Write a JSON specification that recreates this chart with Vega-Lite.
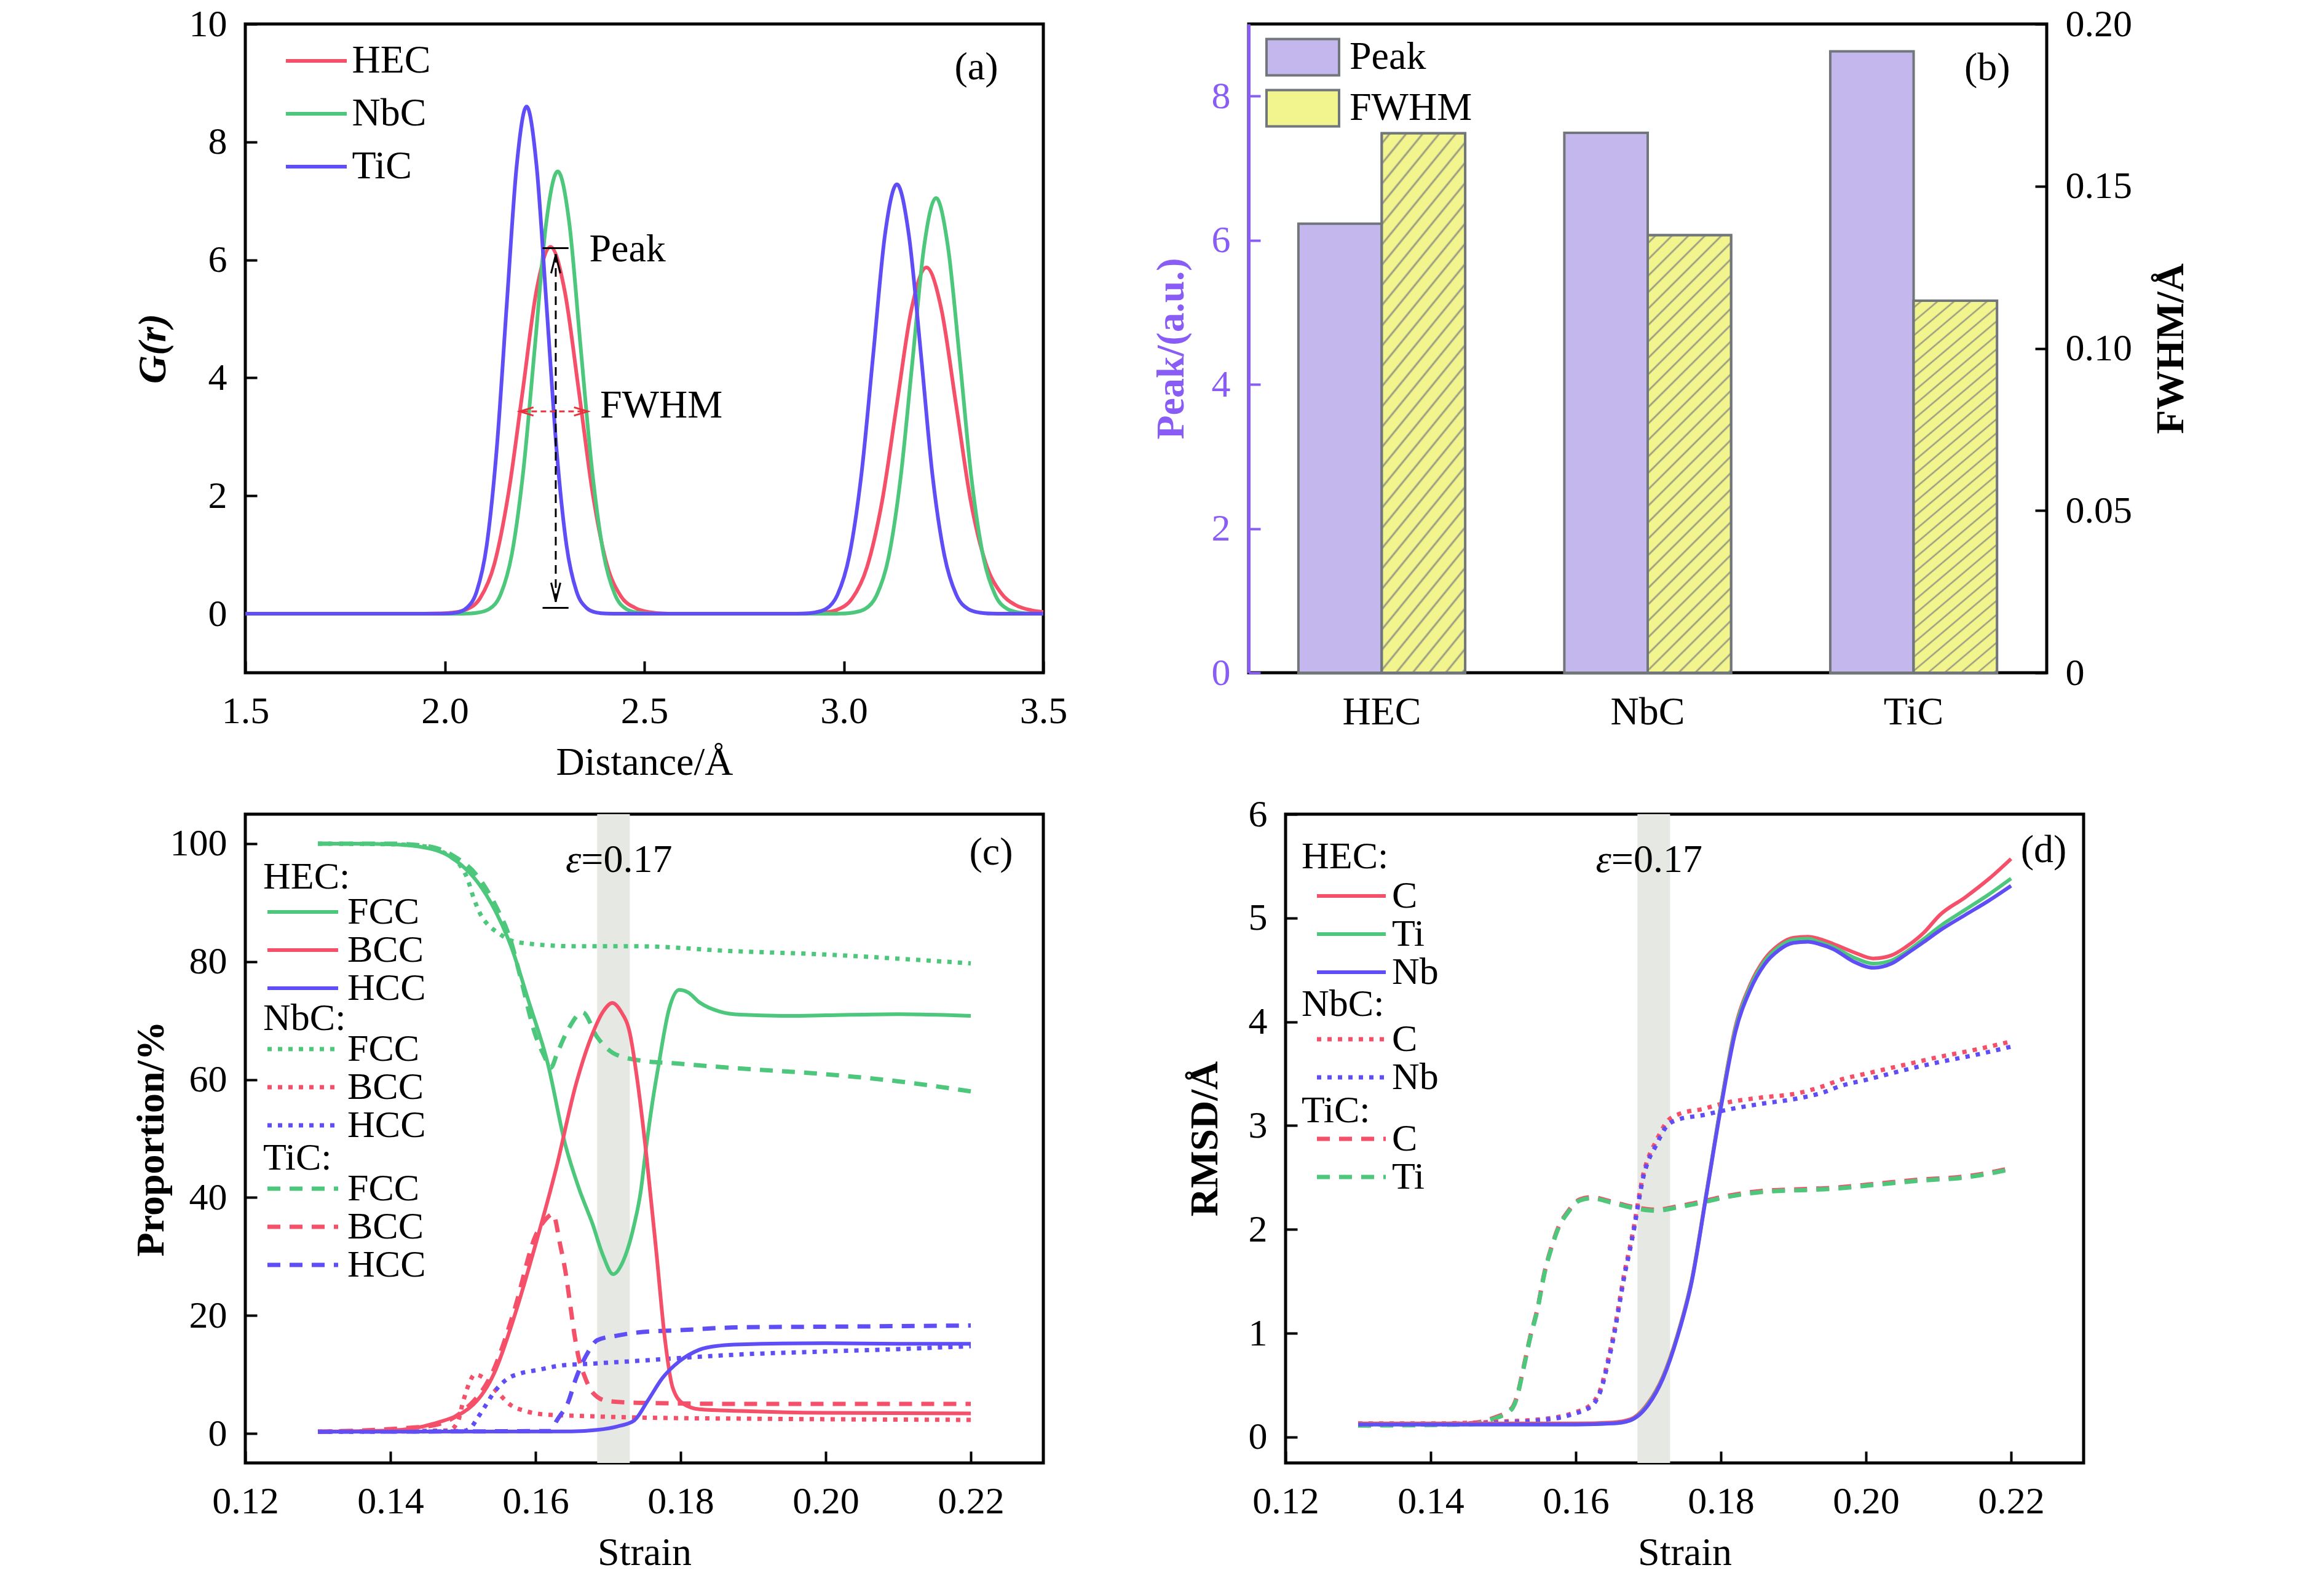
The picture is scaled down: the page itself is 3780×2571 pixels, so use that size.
{
  "$schema": "https://vega.github.io/schema/vega-lite/v6.json",
  "padding": {"left": 211, "top": 5, "right": 5, "bottom": 5},
  "background": "white",
  "config": {
    "font": "Liberation Serif",
    "view": {"stroke": "black", "strokeWidth": 5},
    "axis": {"labelFont": "Liberation Serif", "labelFontSize": 62, "labelColor": "black", "titleFont": "Liberation Serif", "titleFontSize": 64, "titleColor": "black", "titleFontWeight": "normal", "grid": false, "domain": false, "ticks": true, "tickColor": "black", "tickWidth": 4, "tickSize": -19, "labelFlush": false, "labelOverlap": false},
    "axisX": {"titlePadding": 21, "labelPadding": 51},
    "axisY": {"titleFontWeight": "bold", "titlePadding": 10, "labelPadding": 49},
    "legend": {"labelFont": "Liberation Serif", "labelFontSize": 62, "titleFont": "Liberation Serif", "titleFontSize": 62, "titleFontWeight": "normal", "titleColor": "black", "labelColor": "black", "padding": 0, "orient": "none", "labelLimit": 0},
    "text": {"font": "Liberation Serif", "fontSize": 64}
  },
  "spacing": 15,
  "resolve": {"scale": {"color": "independent"}},
  "vconcat": [
    {
      "spacing": 334,
      "bounds": "flush",
      "resolve": {"scale": {"color": "independent"}},
      "hconcat": [
        {
          "width": 1298, "height": 1055,
          "layer": [
            {
              "data": {"values": [
                {"s":"HEC","r":1.5,"g":0},{"s":"HEC","r":1.95,"g":0},{"s":"HEC","r":1.983,"g":0.005},{"s":"HEC","r":2.02,"g":0.02},{"s":"HEC","r":2.053,"g":0.07},{"s":"HEC","r":2.089,"g":0.27},{"s":"HEC","r":2.124,"g":0.84},{"s":"HEC","r":2.159,"g":2.02},{"s":"HEC","r":2.195,"g":3.77},{"s":"HEC","r":2.23,"g":5.49},{"s":"HEC","r":2.265,"g":6.22},{"s":"HEC","r":2.3,"g":5.49},{"s":"HEC","r":2.336,"g":3.77},{"s":"HEC","r":2.371,"g":2.02},{"s":"HEC","r":2.406,"g":0.84},{"s":"HEC","r":2.441,"g":0.3},{"s":"HEC","r":2.477,"g":0.1},{"s":"HEC","r":2.51,"g":0.03},{"s":"HEC","r":2.56,"g":0},{"s":"HEC","r":2.9,"g":0},{"s":"HEC","r":2.95,"g":0.02},{"s":"HEC","r":2.984,"g":0.07},{"s":"HEC","r":3.021,"g":0.26},{"s":"HEC","r":3.058,"g":0.79},{"s":"HEC","r":3.096,"g":1.91},{"s":"HEC","r":3.133,"g":3.56},{"s":"HEC","r":3.17,"g":5.18},{"s":"HEC","r":3.207,"g":5.87},{"s":"HEC","r":3.244,"g":5.18},{"s":"HEC","r":3.281,"g":3.56},{"s":"HEC","r":3.318,"g":1.91},{"s":"HEC","r":3.356,"g":0.85},{"s":"HEC","r":3.393,"g":0.36},{"s":"HEC","r":3.43,"g":0.15},{"s":"HEC","r":3.47,"g":0.06},{"s":"HEC","r":3.5,"g":0.03},
                {"s":"NbC","r":1.5,"g":0},{"s":"NbC","r":2.03,"g":0},{"s":"NbC","r":2.054,"g":0.003},{"s":"NbC","r":2.083,"g":0.02},{"s":"NbC","r":2.111,"g":0.08},{"s":"NbC","r":2.14,"g":0.33},{"s":"NbC","r":2.168,"g":1.01},{"s":"NbC","r":2.197,"g":2.44},{"s":"NbC","r":2.226,"g":4.55},{"s":"NbC","r":2.254,"g":6.62},{"s":"NbC","r":2.283,"g":7.5},{"s":"NbC","r":2.312,"g":6.62},{"s":"NbC","r":2.34,"g":4.55},{"s":"NbC","r":2.369,"g":2.44},{"s":"NbC","r":2.398,"g":1.01},{"s":"NbC","r":2.426,"g":0.33},{"s":"NbC","r":2.455,"g":0.08},{"s":"NbC","r":2.483,"g":0.02},{"s":"NbC","r":2.512,"g":0.003},{"s":"NbC","r":2.55,"g":0},{"s":"NbC","r":2.97,"g":0},{"s":"NbC","r":2.993,"g":0.003},{"s":"NbC","r":3.023,"g":0.02},{"s":"NbC","r":3.053,"g":0.08},{"s":"NbC","r":3.082,"g":0.31},{"s":"NbC","r":3.112,"g":0.95},{"s":"NbC","r":3.142,"g":2.29},{"s":"NbC","r":3.172,"g":4.28},{"s":"NbC","r":3.201,"g":6.22},{"s":"NbC","r":3.231,"g":7.05},{"s":"NbC","r":3.261,"g":6.22},{"s":"NbC","r":3.291,"g":4.28},{"s":"NbC","r":3.32,"g":2.29},{"s":"NbC","r":3.35,"g":0.95},{"s":"NbC","r":3.38,"g":0.31},{"s":"NbC","r":3.41,"g":0.08},{"s":"NbC","r":3.44,"g":0.02},{"s":"NbC","r":3.469,"g":0.003},{"s":"NbC","r":3.5,"g":0},
                {"s":"TiC","r":1.5,"g":0},{"s":"TiC","r":1.98,"g":0},{"s":"TiC","r":2.005,"g":0.003},{"s":"TiC","r":2.03,"g":0.02},{"s":"TiC","r":2.055,"g":0.1},{"s":"TiC","r":2.08,"g":0.38},{"s":"TiC","r":2.105,"g":1.16},{"s":"TiC","r":2.13,"g":2.79},{"s":"TiC","r":2.155,"g":5.22},{"s":"TiC","r":2.18,"g":7.59},{"s":"TiC","r":2.205,"g":8.6},{"s":"TiC","r":2.23,"g":7.59},{"s":"TiC","r":2.255,"g":5.22},{"s":"TiC","r":2.28,"g":2.79},{"s":"TiC","r":2.305,"g":1.16},{"s":"TiC","r":2.33,"g":0.38},{"s":"TiC","r":2.355,"g":0.1},{"s":"TiC","r":2.38,"g":0.02},{"s":"TiC","r":2.405,"g":0.003},{"s":"TiC","r":2.44,"g":0},{"s":"TiC","r":2.87,"g":0},{"s":"TiC","r":2.895,"g":0.003},{"s":"TiC","r":2.925,"g":0.02},{"s":"TiC","r":2.955,"g":0.08},{"s":"TiC","r":2.984,"g":0.32},{"s":"TiC","r":3.014,"g":0.99},{"s":"TiC","r":3.044,"g":2.36},{"s":"TiC","r":3.074,"g":4.42},{"s":"TiC","r":3.103,"g":6.42},{"s":"TiC","r":3.133,"g":7.28},{"s":"TiC","r":3.163,"g":6.42},{"s":"TiC","r":3.193,"g":4.42},{"s":"TiC","r":3.222,"g":2.36},{"s":"TiC","r":3.252,"g":0.99},{"s":"TiC","r":3.282,"g":0.32},{"s":"TiC","r":3.312,"g":0.08},{"s":"TiC","r":3.34,"g":0.02},{"s":"TiC","r":3.371,"g":0.003},{"s":"TiC","r":3.4,"g":0},{"s":"TiC","r":3.5,"g":0}
              ]},
              "mark": {"type": "line", "strokeWidth": 6, "interpolate": "monotone"},
              "encoding": {
                "x": {"field": "r", "type": "quantitative", "scale": {"domain": [1.5, 3.5], "nice": false}, "axis": {"title": "Distance/Å", "values": [1.5, 2, 2.5, 3, 3.5], "format": ".1f"}},
                "y": {"field": "g", "type": "quantitative", "scale": {"domain": [-1, 10], "nice": false}, "axis": {"title": "G(r)", "titleFontStyle": "italic", "values": [0, 2, 4, 6, 8, 10], "format": "d", "titlePadding": 26}},
                "color": {"field": "s", "type": "nominal", "scale": {"domain": ["HEC", "NbC", "TiC"], "range": ["#F5506A", "#4DC77B", "#5F4DF5"]},
                  "legend": {"title": null, "legendX": 63, "legendY": 24, "symbolType": "M-1.5,0H1.5", "symbolSize": 4356, "symbolStrokeWidth": 6, "symbolOffset": 16.5, "labelOffset": 22, "rowPadding": 18, "labelFontSize": 64}}
              }
            },
            {
              "data": {"values": [{}]},
              "mark": {"type": "rule", "color": "black", "strokeWidth": 3},
              "encoding": {"x": {"datum": 2.245, "scale": {"domain": [1.5, 3.5], "nice": false}}, "x2": {"datum": 2.31}, "y": {"datum": 6.2, "scale": {"domain": [-1, 10], "nice": false}}}
            },
            {
              "data": {"values": [{}]},
              "mark": {"type": "rule", "color": "black", "strokeWidth": 3},
              "encoding": {"x": {"datum": 2.245}, "x2": {"datum": 2.31}, "y": {"datum": 0.1}}
            },
            {
              "data": {"values": [{}]},
              "mark": {"type": "rule", "color": "black", "strokeWidth": 3, "strokeDash": [14, 9]},
              "encoding": {"x": {"datum": 2.278}, "y": {"datum": 6.1}, "y2": {"datum": 0.2}}
            },
            {
              "data": {"values": [{}]},
              "mark": {"type": "point", "shape": "M-0.5,1L0,-1L0.5,1", "filled": false, "stroke": "black", "strokeWidth": 3, "size": 900, "opacity": 1},
              "encoding": {"x": {"datum": 2.278}, "y": {"datum": 5.93}}
            },
            {
              "data": {"values": [{}]},
              "mark": {"type": "point", "shape": "M-0.5,-1L0,1L0.5,-1", "filled": false, "stroke": "black", "strokeWidth": 3, "size": 900, "opacity": 1},
              "encoding": {"x": {"datum": 2.278}, "y": {"datum": 0.37}}
            },
            {
              "data": {"values": [{}]},
              "mark": {"type": "rule", "color": "#E8323C", "strokeWidth": 3, "strokeDash": [9, 6]},
              "encoding": {"x": {"datum": 2.194}, "x2": {"datum": 2.352}, "y": {"datum": 3.43}}
            },
            {
              "data": {"values": [{}]},
              "mark": {"type": "point", "shape": "M1,-0.6L-1,0L1,0.6", "filled": false, "stroke": "#E8323C", "strokeWidth": 3, "size": 500, "opacity": 1},
              "encoding": {"x": {"datum": 2.205}, "y": {"datum": 3.43}}
            },
            {
              "data": {"values": [{}]},
              "mark": {"type": "point", "shape": "M-1,-0.6L1,0L-1,0.6", "filled": false, "stroke": "#E8323C", "strokeWidth": 3, "size": 500, "opacity": 1},
              "encoding": {"x": {"datum": 2.341}, "y": {"datum": 3.43}}
            },
            {
              "data": {"values": [{}]},
              "mark": {"type": "text", "text": "Peak", "align": "left", "baseline": "middle", "fontSize": 64},
              "encoding": {"x": {"datum": 2.362}, "y": {"datum": 6.17}}
            },
            {
              "data": {"values": [{}]},
              "mark": {"type": "text", "text": "FWHM", "align": "left", "baseline": "middle", "fontSize": 64},
              "encoding": {"x": {"datum": 2.389}, "y": {"datum": 3.52}}
            },
            {
              "data": {"values": [{}]},
              "mark": {"type": "text", "text": "(a)", "align": "center", "baseline": "middle", "fontSize": 64},
              "encoding": {"x": {"datum": 3.332}, "y": {"datum": 9.26}}
            }
          ]
        },
        {
          "width": 1298, "height": 1055,
          "resolve": {"scale": {"y": "independent"}},
          "layer": [
            {
              "data": {"values": [
                {"m": "HEC", "peak": 6.23, "fwhm": 0.1663},
                {"m": "NbC", "peak": 7.49, "fwhm": 0.1349},
                {"m": "TiC", "peak": 8.62, "fwhm": 0.1147}
              ]},
              "mark": {"type": "bar", "stroke": "#71767B", "strokeWidth": 4},
              "encoding": {
                "x": {"field": "m", "type": "nominal", "scale": {"domain": ["HEC", "NbC", "TiC"], "paddingInner": 0.373, "paddingOuter": 0.187}, "axis": {"title": null, "labelAngle": 0, "labelFontSize": 64}},
                "xOffset": {"datum": "Peak", "scale": {"domain": ["Peak", "FWHM"], "paddingInner": 0, "paddingOuter": 0}},
                "y": {"field": "peak", "type": "quantitative", "scale": {"domain": [0, 9], "nice": false}, "axis": {"orient": "left", "values": [0, 2, 4, 6, 8], "title": "Peak/(a.u.)", "titlePadding": 33, "titleColor": "#8A5CF6", "labelColor": "#8A5CF6", "tickColor": "#8A5CF6", "domain": true, "domainColor": "#8A5CF6", "domainWidth": 5}},
                "color": {"datum": "Peak", "type": "nominal", "scale": {"domain": ["Peak", "FWHM"], "range": ["#C4B7EE", "#F2F48E"]},
                  "legend": {"title": null, "legendX": 28, "legendY": 22, "symbolType": "M-2,-1H2V1H-2Z", "symbolSize": 3481, "symbolOffset": 28, "labelOffset": 44, "rowPadding": 7, "symbolStrokeColor": "#71767B", "symbolStrokeWidth": 4, "labelFontSize": 64}}
              }
            },
            {
              "data": {"values": [
                {"m": "HEC", "peak": 6.23, "fwhm": 0.1663},
                {"m": "NbC", "peak": 7.49, "fwhm": 0.1349},
                {"m": "TiC", "peak": 8.62, "fwhm": 0.1147}
              ]},
              "mark": {"type": "bar", "stroke": "#71767B", "strokeWidth": 4},
              "encoding": {
                "x": {"field": "m", "type": "nominal"},
                "xOffset": {"datum": "FWHM"},
                "y": {"field": "fwhm", "type": "quantitative", "scale": {"domain": [0, 0.2], "nice": false}, "axis": {"orient": "right", "values": [0, 0.05, 0.1, 0.15, 0.2], "labelExpr": "datum.value == 0 ? '0' : format(datum.value, '.2f')", "title": "FWHM/Å", "titleAngle": 270, "titleBaseline": "top", "titlePadding": 32}},
                "color": {"datum": "FWHM", "type": "nominal"}
              }
            },
            {
              "data": {"values": [
                {"m": "HEC", "peak": 6.23, "fwhm": 0.1663},
                {"m": "NbC", "peak": 7.49, "fwhm": 0.1349},
                {"m": "TiC", "peak": 8.62, "fwhm": 0.1147}
              ]},
              "mark": {"type": "bar", "stroke": "#71767B", "strokeWidth": 4,
                "fill": {"gradient": "linear", "x1": 0, "y1": 0, "x2": 0.22, "y2": 1.16, "stops": [
                  {"offset": 0, "color": "#F2F48E"},
                  {"offset": 0.0116, "color": "#F2F48E"}, {"offset": 0.0156, "color": "#8E9080"}, {"offset": 0.0196, "color": "#F2F48E"},
                  {"offset": 0.0429, "color": "#F2F48E"}, {"offset": 0.0469, "color": "#8E9080"}, {"offset": 0.0509, "color": "#F2F48E"},
                  {"offset": 0.0741, "color": "#F2F48E"}, {"offset": 0.0781, "color": "#8E9080"}, {"offset": 0.0821, "color": "#F2F48E"},
                  {"offset": 0.1054, "color": "#F2F48E"}, {"offset": 0.1094, "color": "#8E9080"}, {"offset": 0.1134, "color": "#F2F48E"},
                  {"offset": 0.1366, "color": "#F2F48E"}, {"offset": 0.1406, "color": "#8E9080"}, {"offset": 0.1446, "color": "#F2F48E"},
                  {"offset": 0.1679, "color": "#F2F48E"}, {"offset": 0.1719, "color": "#8E9080"}, {"offset": 0.1759, "color": "#F2F48E"},
                  {"offset": 0.1991, "color": "#F2F48E"}, {"offset": 0.2031, "color": "#8E9080"}, {"offset": 0.2071, "color": "#F2F48E"},
                  {"offset": 0.2304, "color": "#F2F48E"}, {"offset": 0.2344, "color": "#8E9080"}, {"offset": 0.2384, "color": "#F2F48E"},
                  {"offset": 0.2616, "color": "#F2F48E"}, {"offset": 0.2656, "color": "#8E9080"}, {"offset": 0.2696, "color": "#F2F48E"},
                  {"offset": 0.2929, "color": "#F2F48E"}, {"offset": 0.2969, "color": "#8E9080"}, {"offset": 0.3009, "color": "#F2F48E"},
                  {"offset": 0.3241, "color": "#F2F48E"}, {"offset": 0.3281, "color": "#8E9080"}, {"offset": 0.3321, "color": "#F2F48E"},
                  {"offset": 0.3554, "color": "#F2F48E"}, {"offset": 0.3594, "color": "#8E9080"}, {"offset": 0.3634, "color": "#F2F48E"},
                  {"offset": 0.3866, "color": "#F2F48E"}, {"offset": 0.3906, "color": "#8E9080"}, {"offset": 0.3946, "color": "#F2F48E"},
                  {"offset": 0.4179, "color": "#F2F48E"}, {"offset": 0.4219, "color": "#8E9080"}, {"offset": 0.4259, "color": "#F2F48E"},
                  {"offset": 0.4491, "color": "#F2F48E"}, {"offset": 0.4531, "color": "#8E9080"}, {"offset": 0.4571, "color": "#F2F48E"},
                  {"offset": 0.4804, "color": "#F2F48E"}, {"offset": 0.4844, "color": "#8E9080"}, {"offset": 0.4884, "color": "#F2F48E"},
                  {"offset": 0.5116, "color": "#F2F48E"}, {"offset": 0.5156, "color": "#8E9080"}, {"offset": 0.5196, "color": "#F2F48E"},
                  {"offset": 0.5429, "color": "#F2F48E"}, {"offset": 0.5469, "color": "#8E9080"}, {"offset": 0.5509, "color": "#F2F48E"},
                  {"offset": 0.5741, "color": "#F2F48E"}, {"offset": 0.5781, "color": "#8E9080"}, {"offset": 0.5821, "color": "#F2F48E"},
                  {"offset": 0.6054, "color": "#F2F48E"}, {"offset": 0.6094, "color": "#8E9080"}, {"offset": 0.6134, "color": "#F2F48E"},
                  {"offset": 0.6366, "color": "#F2F48E"}, {"offset": 0.6406, "color": "#8E9080"}, {"offset": 0.6446, "color": "#F2F48E"},
                  {"offset": 0.6679, "color": "#F2F48E"}, {"offset": 0.6719, "color": "#8E9080"}, {"offset": 0.6759, "color": "#F2F48E"},
                  {"offset": 0.6991, "color": "#F2F48E"}, {"offset": 0.7031, "color": "#8E9080"}, {"offset": 0.7071, "color": "#F2F48E"},
                  {"offset": 0.7304, "color": "#F2F48E"}, {"offset": 0.7344, "color": "#8E9080"}, {"offset": 0.7384, "color": "#F2F48E"},
                  {"offset": 0.7616, "color": "#F2F48E"}, {"offset": 0.7656, "color": "#8E9080"}, {"offset": 0.7696, "color": "#F2F48E"},
                  {"offset": 0.7929, "color": "#F2F48E"}, {"offset": 0.7969, "color": "#8E9080"}, {"offset": 0.8009, "color": "#F2F48E"},
                  {"offset": 0.8241, "color": "#F2F48E"}, {"offset": 0.8281, "color": "#8E9080"}, {"offset": 0.8321, "color": "#F2F48E"},
                  {"offset": 0.8554, "color": "#F2F48E"}, {"offset": 0.8594, "color": "#8E9080"}, {"offset": 0.8634, "color": "#F2F48E"},
                  {"offset": 0.8866, "color": "#F2F48E"}, {"offset": 0.8906, "color": "#8E9080"}, {"offset": 0.8946, "color": "#F2F48E"},
                  {"offset": 0.9179, "color": "#F2F48E"}, {"offset": 0.9219, "color": "#8E9080"}, {"offset": 0.9259, "color": "#F2F48E"},
                  {"offset": 0.9491, "color": "#F2F48E"}, {"offset": 0.9531, "color": "#8E9080"}, {"offset": 0.9571, "color": "#F2F48E"},
                  {"offset": 0.9804, "color": "#F2F48E"}, {"offset": 0.9844, "color": "#8E9080"}, {"offset": 0.9884, "color": "#F2F48E"},
                  {"offset": 1, "color": "#F2F48E"}
                ]}},
              "encoding": {
                "x": {"field": "m", "type": "nominal"},
                "xOffset": {"datum": "FWHM"},
                "y": {"field": "fwhm", "type": "quantitative", "scale": {"domain": [0, 0.2], "nice": false}, "axis": null}
              }
            },
            {
              "data": {"values": [{}]},
              "mark": {"type": "text", "text": "(b)", "align": "center", "baseline": "middle", "fontSize": 64, "dx": 52},
              "encoding": {"x": {"datum": "TiC", "type": "nominal"}, "xOffset": {"datum": "FWHM"}, "y": {"datum": 8.39, "scale": {"domain": [0, 9], "nice": false}, "axis": null}}
            }
          ]
        }
      ]
    },
    {
      "spacing": 394,
      "bounds": "flush",
      "resolve": {"scale": {"color": "independent"}},
      "hconcat": [
        {
          "width": 1298, "height": 1055,
          "resolve": {"scale": {"color": "independent"}},
          "layer": [
            {
              "data": {"values": [{}]},
              "mark": {"type": "rect", "color": "#E6E8E3"},
              "encoding": {"x": {"datum": 0.1685, "scale": {"domain": [0.12, 0.23], "nice": false}}, "x2": {"datum": 0.173}}
            },
            {
              "data": {"values": [
                {"p":"FCC","e":0.13,"v":100},{"p":"FCC","e":0.14,"v":99.9},{"p":"FCC","e":0.145,"v":99.5},{"p":"FCC","e":0.148,"v":98},{"p":"FCC","e":0.1495,"v":96.5},{"p":"FCC","e":0.1506,"v":94.1},{"p":"FCC","e":0.1515,"v":90.7},{"p":"FCC","e":0.1526,"v":87.6},{"p":"FCC","e":0.1535,"v":86.2},{"p":"FCC","e":0.1547,"v":85},{"p":"FCC","e":0.1574,"v":83.3},{"p":"FCC","e":0.1656,"v":82.6},{"p":"FCC","e":0.1741,"v":82.6},{"p":"FCC","e":0.1868,"v":81.8},{"p":"FCC","e":0.2,"v":81.2},{"p":"FCC","e":0.21,"v":80.5},{"p":"FCC","e":0.22,"v":79.7},
                {"p":"BCC","e":0.13,"v":0.3},{"p":"BCC","e":0.148,"v":0.5},{"p":"BCC","e":0.1493,"v":2},{"p":"BCC","e":0.15,"v":5.3},{"p":"BCC","e":0.1509,"v":8.6},{"p":"BCC","e":0.1516,"v":10},{"p":"BCC","e":0.1529,"v":9.4},{"p":"BCC","e":0.1546,"v":7.2},{"p":"BCC","e":0.1566,"v":4.8},{"p":"BCC","e":0.1586,"v":3.8},{"p":"BCC","e":0.1614,"v":3.2},{"p":"BCC","e":0.1655,"v":3},{"p":"BCC","e":0.174,"v":2.7},{"p":"BCC","e":0.19,"v":2.5},{"p":"BCC","e":0.22,"v":2.3},
                {"p":"HCC","e":0.13,"v":0.3},{"p":"HCC","e":0.15,"v":0.4},{"p":"HCC","e":0.1511,"v":1},{"p":"HCC","e":0.152,"v":2.6},{"p":"HCC","e":0.1529,"v":4.3},{"p":"HCC","e":0.1543,"v":7},{"p":"HCC","e":0.1563,"v":9.4},{"p":"HCC","e":0.1577,"v":10.1},{"p":"HCC","e":0.1605,"v":10.8},{"p":"HCC","e":0.1634,"v":11.5},{"p":"HCC","e":0.1673,"v":11.8},{"p":"HCC","e":0.174,"v":12.3},{"p":"HCC","e":0.1812,"v":12.9},{"p":"HCC","e":0.1883,"v":13.4},{"p":"HCC","e":0.2,"v":13.9},{"p":"HCC","e":0.21,"v":14.3},{"p":"HCC","e":0.22,"v":14.8}
              ]},
              "mark": {"type": "line", "strokeWidth": 7, "strokeDash": [7, 10], "interpolate": "monotone"},
              "encoding": {
                "x": {"field": "e", "type": "quantitative", "scale": {"domain": [0.12, 0.23], "nice": false}, "axis": {"title": "Strain", "values": [0.12, 0.14, 0.16, 0.18, 0.2, 0.22], "format": ".2f"}},
                "y": {"field": "v", "type": "quantitative", "scale": {"domain": [-5, 105], "nice": false}, "axis": {"title": "Proportion/%", "values": [0, 20, 40, 60, 80, 100], "format": "d", "titlePadding": -2}},
                "color": {"field": "p", "type": "nominal", "scale": {"domain": ["FCC", "BCC", "HCC"], "range": ["#4DC77B", "#F5506A", "#5F4DF5"]},
                  "legend": {"title": "NbC:", "legendX": 29, "legendY": 302, "symbolType": "M-2.875,0H2.875", "symbolSize": 1600, "symbolStrokeWidth": 7, "symbolDash": [7, 10], "symbolOffset": 33.5, "labelOffset": 41.5, "rowPadding": -11, "titlePadding": -13}}
              }
            },
            {
              "data": {"values": [
                {"p":"FCC","e":0.13,"v":100},{"p":"FCC","e":0.14,"v":100},{"p":"FCC","e":0.145,"v":99.6},{"p":"FCC","e":0.1486,"v":98},{"p":"FCC","e":0.152,"v":94.5},{"p":"FCC","e":0.1545,"v":89.5},{"p":"FCC","e":0.1566,"v":83.5},{"p":"FCC","e":0.158,"v":77},{"p":"FCC","e":0.16,"v":67.5},{"p":"FCC","e":0.1612,"v":64},{"p":"FCC","e":0.1621,"v":62},{"p":"FCC","e":0.163,"v":64.5},{"p":"FCC","e":0.1645,"v":68.5},{"p":"FCC","e":0.1665,"v":71.4},{"p":"FCC","e":0.1685,"v":67.2},{"p":"FCC","e":0.1707,"v":64.5},{"p":"FCC","e":0.1741,"v":63.3},{"p":"FCC","e":0.1798,"v":62.7},{"p":"FCC","e":0.1868,"v":62},{"p":"FCC","e":0.2,"v":60.9},{"p":"FCC","e":0.21,"v":59.7},{"p":"FCC","e":0.22,"v":58},
                {"p":"BCC","e":0.13,"v":0.3},{"p":"BCC","e":0.145,"v":1.2},{"p":"BCC","e":0.15,"v":3.8},{"p":"BCC","e":0.1543,"v":11},{"p":"BCC","e":0.1571,"v":21},{"p":"BCC","e":0.16,"v":33.5},{"p":"BCC","e":0.1614,"v":36.3},{"p":"BCC","e":0.1624,"v":37.2},{"p":"BCC","e":0.1634,"v":32},{"p":"BCC","e":0.1642,"v":26.9},{"p":"BCC","e":0.1648,"v":21.7},{"p":"BCC","e":0.1654,"v":16.5},{"p":"BCC","e":0.1659,"v":13.1},{"p":"BCC","e":0.1668,"v":9.6},{"p":"BCC","e":0.1679,"v":6.9},{"p":"BCC","e":0.1699,"v":5.5},{"p":"BCC","e":0.174,"v":5.2},{"p":"BCC","e":0.19,"v":5},{"p":"BCC","e":0.22,"v":5},
                {"p":"HCC","e":0.13,"v":0.3},{"p":"HCC","e":0.1622,"v":0.4},{"p":"HCC","e":0.1628,"v":1.9},{"p":"HCC","e":0.1645,"v":5.3},{"p":"HCC","e":0.1656,"v":9.4},{"p":"HCC","e":0.1673,"v":13.9},{"p":"HCC","e":0.1685,"v":15.8},{"p":"HCC","e":0.1713,"v":16.6},{"p":"HCC","e":0.174,"v":17.1},{"p":"HCC","e":0.1798,"v":17.5},{"p":"HCC","e":0.1883,"v":18},{"p":"HCC","e":0.2,"v":18.1},{"p":"HCC","e":0.22,"v":18.3}
              ]},
              "mark": {"type": "line", "strokeWidth": 7, "strokeDash": [21, 15], "interpolate": "monotone"},
              "encoding": {
                "x": {"field": "e", "type": "quantitative", "scale": {"domain": [0.12, 0.23], "nice": false}},
                "y": {"field": "v", "type": "quantitative", "scale": {"domain": [-5, 105], "nice": false}},
                "color": {"field": "p", "type": "nominal", "scale": {"domain": ["FCC", "BCC", "HCC"], "range": ["#4DC77B", "#F5506A", "#5F4DF5"]},
                  "legend": {"title": "TiC:", "legendX": 29, "legendY": 529, "symbolType": "M-2.875,0H2.875", "symbolSize": 1600, "symbolStrokeWidth": 7, "symbolDash": [21, 15], "symbolOffset": 33.5, "labelOffset": 41.5, "rowPadding": -11, "titlePadding": -13}}
              }
            },
            {
              "data": {"values": [
                {"p":"FCC","e":0.13,"v":100},{"p":"FCC","e":0.135,"v":100},{"p":"FCC","e":0.14,"v":99.9},{"p":"FCC","e":0.144,"v":99.5},{"p":"FCC","e":0.1486,"v":97.5},{"p":"FCC","e":0.152,"v":93.5},{"p":"FCC","e":0.1545,"v":88.5},{"p":"FCC","e":0.1566,"v":82.7},{"p":"FCC","e":0.1591,"v":73.1},{"p":"FCC","e":0.1617,"v":62.7},{"p":"FCC","e":0.1641,"v":49},{"p":"FCC","e":0.166,"v":41.5},{"p":"FCC","e":0.1679,"v":35.4},{"p":"FCC","e":0.1693,"v":30.2},{"p":"FCC","e":0.1707,"v":27},{"p":"FCC","e":0.172,"v":29},{"p":"FCC","e":0.1736,"v":35.4},{"p":"FCC","e":0.1745,"v":41},{"p":"FCC","e":0.1752,"v":48},{"p":"FCC","e":0.1761,"v":56},{"p":"FCC","e":0.177,"v":62.7},{"p":"FCC","e":0.1784,"v":71.9},{"p":"FCC","e":0.1798,"v":75.2},{"p":"FCC","e":0.181,"v":74.8},{"p":"FCC","e":0.1826,"v":73.1},{"p":"FCC","e":0.1855,"v":71.5},{"p":"FCC","e":0.1883,"v":71},{"p":"FCC","e":0.195,"v":70.8},{"p":"FCC","e":0.2,"v":70.9},{"p":"FCC","e":0.21,"v":71.1},{"p":"FCC","e":0.22,"v":70.8},
                {"p":"BCC","e":0.13,"v":0.3},{"p":"BCC","e":0.14,"v":0.5},{"p":"BCC","e":0.1458,"v":1.6},{"p":"BCC","e":0.1515,"v":5},{"p":"BCC","e":0.1543,"v":10.2},{"p":"BCC","e":0.1571,"v":19.9},{"p":"BCC","e":0.16,"v":32},{"p":"BCC","e":0.1628,"v":44.7},{"p":"BCC","e":0.1656,"v":59.3},{"p":"BCC","e":0.1679,"v":67.9},{"p":"BCC","e":0.1693,"v":71.5},{"p":"BCC","e":0.1706,"v":73},{"p":"BCC","e":0.1718,"v":71.5},{"p":"BCC","e":0.173,"v":67.9},{"p":"BCC","e":0.1741,"v":59.3},{"p":"BCC","e":0.1753,"v":47},{"p":"BCC","e":0.1767,"v":30.2},{"p":"BCC","e":0.1778,"v":16.4},{"p":"BCC","e":0.1789,"v":7.8},{"p":"BCC","e":0.1804,"v":5},{"p":"BCC","e":0.1826,"v":4.1},{"p":"BCC","e":0.1883,"v":3.8},{"p":"BCC","e":0.2,"v":3.5},{"p":"BCC","e":0.22,"v":3.4},
                {"p":"HCC","e":0.13,"v":0.3},{"p":"HCC","e":0.165,"v":0.35},{"p":"HCC","e":0.1685,"v":0.6},{"p":"HCC","e":0.1713,"v":1.2},{"p":"HCC","e":0.1736,"v":2.2},{"p":"HCC","e":0.1755,"v":5.6},{"p":"HCC","e":0.1775,"v":9.4},{"p":"HCC","e":0.1798,"v":12.2},{"p":"HCC","e":0.1826,"v":14.2},{"p":"HCC","e":0.1855,"v":14.9},{"p":"HCC","e":0.1883,"v":15.1},{"p":"HCC","e":0.2,"v":15.3},{"p":"HCC","e":0.21,"v":15.2},{"p":"HCC","e":0.22,"v":15.2}
              ]},
              "mark": {"type": "line", "strokeWidth": 6, "interpolate": "monotone"},
              "encoding": {
                "x": {"field": "e", "type": "quantitative", "scale": {"domain": [0.12, 0.23], "nice": false}},
                "y": {"field": "v", "type": "quantitative", "scale": {"domain": [-5, 105], "nice": false}},
                "color": {"field": "p", "type": "nominal", "scale": {"domain": ["FCC", "BCC", "HCC"], "range": ["#4DC77B", "#F5506A", "#5F4DF5"]},
                  "legend": {"title": "HEC:", "legendX": 29, "legendY": 72, "symbolType": "M-2.875,0H2.875", "symbolSize": 1600, "symbolStrokeWidth": 6, "symbolOffset": 33.5, "labelOffset": 41.5, "rowPadding": -11, "titlePadding": -6}}
              }
            },
            {
              "data": {"values": [{}]},
              "mark": {"type": "text", "text": "ε", "align": "right", "baseline": "alphabetic", "fontStyle": "italic", "fontSize": 64},
              "encoding": {"x": {"datum": 0.1663}, "y": {"datum": 95.2}}
            },
            {
              "data": {"values": [{}]},
              "mark": {"type": "text", "text": "=0.17", "align": "left", "baseline": "alphabetic", "fontSize": 64},
              "encoding": {"x": {"datum": 0.1663}, "y": {"datum": 95.2}}
            },
            {
              "data": {"values": [{}]},
              "mark": {"type": "text", "text": "(c)", "align": "center", "baseline": "middle", "fontSize": 64},
              "encoding": {"x": {"datum": 0.2228}, "y": {"datum": 98.4}}
            }
          ]
        },
        {
          "width": 1298, "height": 1055,
          "resolve": {"scale": {"color": "independent"}},
          "layer": [
            {
              "data": {"values": [{}]},
              "mark": {"type": "rect", "color": "#E6E8E3"},
              "encoding": {"x": {"datum": 0.1685, "scale": {"domain": [0.12, 0.23], "nice": false}}, "x2": {"datum": 0.173}}
            },
            {
              "data": {"values": [
                {"p":"C","e":0.13,"v":0.12},{"p":"C","e":0.145,"v":0.13},{"p":"C","e":0.1485,"v":0.18},{"p":"C","e":0.1512,"v":0.28},{"p":"C","e":0.1518,"v":0.37},{"p":"C","e":0.1528,"v":0.67},{"p":"C","e":0.1537,"v":0.96},{"p":"C","e":0.1547,"v":1.23},{"p":"C","e":0.1557,"v":1.59},{"p":"C","e":0.1567,"v":1.84},{"p":"C","e":0.1576,"v":2.02},{"p":"C","e":0.1589,"v":2.17},{"p":"C","e":0.1606,"v":2.29},{"p":"C","e":0.1622,"v":2.31},{"p":"C","e":0.1648,"v":2.27},{"p":"C","e":0.1677,"v":2.22},{"p":"C","e":0.171,"v":2.19},{"p":"C","e":0.1739,"v":2.22},{"p":"C","e":0.1775,"v":2.27},{"p":"C","e":0.1807,"v":2.32},{"p":"C","e":0.1856,"v":2.37},{"p":"C","e":0.1921,"v":2.39},{"p":"C","e":0.1953,"v":2.4},{"p":"C","e":0.2014,"v":2.44},{"p":"C","e":0.2075,"v":2.48},{"p":"C","e":0.2137,"v":2.51},{"p":"C","e":0.22,"v":2.59},
                {"p":"Ti","e":0.13,"v":0.11},{"p":"Ti","e":0.145,"v":0.12},{"p":"Ti","e":0.1485,"v":0.17},{"p":"Ti","e":0.1512,"v":0.27},{"p":"Ti","e":0.1518,"v":0.36},{"p":"Ti","e":0.1528,"v":0.66},{"p":"Ti","e":0.1537,"v":0.95},{"p":"Ti","e":0.1547,"v":1.22},{"p":"Ti","e":0.1557,"v":1.58},{"p":"Ti","e":0.1567,"v":1.83},{"p":"Ti","e":0.1576,"v":2.01},{"p":"Ti","e":0.1589,"v":2.16},{"p":"Ti","e":0.1606,"v":2.28},{"p":"Ti","e":0.1622,"v":2.3},{"p":"Ti","e":0.1648,"v":2.26},{"p":"Ti","e":0.1677,"v":2.21},{"p":"Ti","e":0.171,"v":2.18},{"p":"Ti","e":0.1739,"v":2.21},{"p":"Ti","e":0.1775,"v":2.26},{"p":"Ti","e":0.1807,"v":2.31},{"p":"Ti","e":0.1856,"v":2.36},{"p":"Ti","e":0.1921,"v":2.38},{"p":"Ti","e":0.1953,"v":2.39},{"p":"Ti","e":0.2014,"v":2.43},{"p":"Ti","e":0.2075,"v":2.47},{"p":"Ti","e":0.2137,"v":2.5},{"p":"Ti","e":0.22,"v":2.58}
              ]},
              "mark": {"type": "line", "strokeWidth": 7, "strokeDash": [21, 15], "interpolate": "monotone"},
              "encoding": {
                "x": {"field": "e", "type": "quantitative", "scale": {"domain": [0.12, 0.23], "nice": false}, "axis": {"title": "Strain", "values": [0.12, 0.14, 0.16, 0.18, 0.2, 0.22], "format": ".2f"}},
                "y": {"field": "v", "type": "quantitative", "scale": {"domain": [-0.25, 6], "nice": false}, "axis": {"title": "RMSD/Å", "values": [0, 1, 2, 3, 4, 5, 6], "format": "d", "titlePadding": 38}},
                "color": {"field": "p", "type": "nominal", "scale": {"domain": ["C", "Ti"], "range": ["#F5506A", "#4DC77B"]},
                  "legend": {"title": "TiC:", "legendX": 26, "legendY": 452, "symbolType": "M-2.8,0H2.8", "symbolSize": 1600, "symbolStrokeWidth": 7, "symbolDash": [21, 15], "symbolOffset": 50, "labelOffset": 35, "rowPadding": -5, "titlePadding": -17}}
              }
            },
            {
              "data": {"values": [
                {"p":"C","e":0.13,"v":0.13},{"p":"C","e":0.14,"v":0.13},{"p":"C","e":0.15,"v":0.15},{"p":"C","e":0.155,"v":0.17},{"p":"C","e":0.1596,"v":0.23},{"p":"C","e":0.1622,"v":0.32},{"p":"C","e":0.1635,"v":0.48},{"p":"C","e":0.1644,"v":0.73},{"p":"C","e":0.1653,"v":1.02},{"p":"C","e":0.1661,"v":1.34},{"p":"C","e":0.1667,"v":1.58},{"p":"C","e":0.1674,"v":1.81},{"p":"C","e":0.1681,"v":2.06},{"p":"C","e":0.1687,"v":2.31},{"p":"C","e":0.1693,"v":2.53},{"p":"C","e":0.17,"v":2.69},{"p":"C","e":0.171,"v":2.84},{"p":"C","e":0.1726,"v":3.04},{"p":"C","e":0.1742,"v":3.11},{"p":"C","e":0.1775,"v":3.16},{"p":"C","e":0.1807,"v":3.22},{"p":"C","e":0.1856,"v":3.27},{"p":"C","e":0.1905,"v":3.31},{"p":"C","e":0.1937,"v":3.37},{"p":"C","e":0.1969,"v":3.45},{"p":"C","e":0.2,"v":3.5},{"p":"C","e":0.205,"v":3.58},{"p":"C","e":0.21,"v":3.66},{"p":"C","e":0.215,"v":3.73},{"p":"C","e":0.22,"v":3.81},
                {"p":"Nb","e":0.13,"v":0.12},{"p":"Nb","e":0.14,"v":0.12},{"p":"Nb","e":0.15,"v":0.14},{"p":"Nb","e":0.155,"v":0.16},{"p":"Nb","e":0.1596,"v":0.22},{"p":"Nb","e":0.1622,"v":0.3},{"p":"Nb","e":0.1635,"v":0.46},{"p":"Nb","e":0.1644,"v":0.7},{"p":"Nb","e":0.1653,"v":0.99},{"p":"Nb","e":0.1661,"v":1.31},{"p":"Nb","e":0.1667,"v":1.55},{"p":"Nb","e":0.1674,"v":1.78},{"p":"Nb","e":0.1681,"v":2.03},{"p":"Nb","e":0.1687,"v":2.28},{"p":"Nb","e":0.1693,"v":2.5},{"p":"Nb","e":0.17,"v":2.66},{"p":"Nb","e":0.171,"v":2.8},{"p":"Nb","e":0.1726,"v":3.0},{"p":"Nb","e":0.1742,"v":3.06},{"p":"Nb","e":0.1775,"v":3.1},{"p":"Nb","e":0.1807,"v":3.15},{"p":"Nb","e":0.1856,"v":3.21},{"p":"Nb","e":0.1905,"v":3.26},{"p":"Nb","e":0.1937,"v":3.31},{"p":"Nb","e":0.1969,"v":3.39},{"p":"Nb","e":0.2,"v":3.44},{"p":"Nb","e":0.205,"v":3.53},{"p":"Nb","e":0.21,"v":3.61},{"p":"Nb","e":0.215,"v":3.68},{"p":"Nb","e":0.22,"v":3.76}
              ]},
              "mark": {"type": "line", "strokeWidth": 7, "strokeDash": [7, 10], "interpolate": "monotone"},
              "encoding": {
                "x": {"field": "e", "type": "quantitative", "scale": {"domain": [0.12, 0.23], "nice": false}},
                "y": {"field": "v", "type": "quantitative", "scale": {"domain": [-0.25, 6], "nice": false}},
                "color": {"field": "p", "type": "nominal", "scale": {"domain": ["C", "Nb"], "range": ["#F5506A", "#5F4DF5"]},
                  "legend": {"title": "NbC:", "legendX": 26, "legendY": 279, "symbolType": "M-2.8,0H2.8", "symbolSize": 1600, "symbolStrokeWidth": 7, "symbolDash": [7, 10], "symbolOffset": 50, "labelOffset": 35, "rowPadding": -14, "titlePadding": -6}}
              }
            },
            {
              "data": {"values": [
                {"p":"C","e":0.13,"v":0.13},{"p":"C","e":0.14,"v":0.13},{"p":"C","e":0.15,"v":0.13},{"p":"C","e":0.16,"v":0.13},{"p":"C","e":0.165,"v":0.14},{"p":"C","e":0.1675,"v":0.17},{"p":"C","e":0.17,"v":0.33},{"p":"C","e":0.172,"v":0.58},{"p":"C","e":0.174,"v":0.98},{"p":"C","e":0.176,"v":1.52},{"p":"C","e":0.178,"v":2.35},{"p":"C","e":0.18,"v":3.2},{"p":"C","e":0.182,"v":3.95},{"p":"C","e":0.184,"v":4.35},{"p":"C","e":0.186,"v":4.6},{"p":"C","e":0.188,"v":4.74},{"p":"C","e":0.19,"v":4.81},{"p":"C","e":0.192,"v":4.82},{"p":"C","e":0.1935,"v":4.8},{"p":"C","e":0.1955,"v":4.75},{"p":"C","e":0.1983,"v":4.67},{"p":"C","e":0.201,"v":4.61},{"p":"C","e":0.2035,"v":4.64},{"p":"C","e":0.2055,"v":4.72},{"p":"C","e":0.208,"v":4.86},{"p":"C","e":0.2102,"v":5.03},{"p":"C","e":0.2137,"v":5.2},{"p":"C","e":0.217,"v":5.38},{"p":"C","e":0.22,"v":5.57},
                {"p":"Ti","e":0.13,"v":0.12},{"p":"Ti","e":0.14,"v":0.12},{"p":"Ti","e":0.15,"v":0.12},{"p":"Ti","e":0.16,"v":0.12},{"p":"Ti","e":0.165,"v":0.13},{"p":"Ti","e":0.1675,"v":0.16},{"p":"Ti","e":0.17,"v":0.32},{"p":"Ti","e":0.172,"v":0.57},{"p":"Ti","e":0.174,"v":0.97},{"p":"Ti","e":0.176,"v":1.51},{"p":"Ti","e":0.178,"v":2.34},{"p":"Ti","e":0.18,"v":3.19},{"p":"Ti","e":0.182,"v":3.93},{"p":"Ti","e":0.184,"v":4.33},{"p":"Ti","e":0.186,"v":4.58},{"p":"Ti","e":0.188,"v":4.72},{"p":"Ti","e":0.19,"v":4.79},{"p":"Ti","e":0.192,"v":4.8},{"p":"Ti","e":0.1935,"v":4.77},{"p":"Ti","e":0.1955,"v":4.72},{"p":"Ti","e":0.1983,"v":4.62},{"p":"Ti","e":0.201,"v":4.56},{"p":"Ti","e":0.2035,"v":4.59},{"p":"Ti","e":0.2055,"v":4.67},{"p":"Ti","e":0.208,"v":4.8},{"p":"Ti","e":0.2102,"v":4.92},{"p":"Ti","e":0.2137,"v":5.08},{"p":"Ti","e":0.217,"v":5.23},{"p":"Ti","e":0.22,"v":5.38},
                {"p":"Nb","e":0.13,"v":0.12},{"p":"Nb","e":0.14,"v":0.12},{"p":"Nb","e":0.15,"v":0.12},{"p":"Nb","e":0.16,"v":0.12},{"p":"Nb","e":0.165,"v":0.13},{"p":"Nb","e":0.1675,"v":0.16},{"p":"Nb","e":0.17,"v":0.31},{"p":"Nb","e":0.172,"v":0.56},{"p":"Nb","e":0.174,"v":0.96},{"p":"Nb","e":0.176,"v":1.5},{"p":"Nb","e":0.178,"v":2.33},{"p":"Nb","e":0.18,"v":3.17},{"p":"Nb","e":0.182,"v":3.9},{"p":"Nb","e":0.184,"v":4.3},{"p":"Nb","e":0.186,"v":4.55},{"p":"Nb","e":0.188,"v":4.69},{"p":"Nb","e":0.19,"v":4.76},{"p":"Nb","e":0.192,"v":4.77},{"p":"Nb","e":0.1935,"v":4.75},{"p":"Nb","e":0.1955,"v":4.7},{"p":"Nb","e":0.1983,"v":4.58},{"p":"Nb","e":0.201,"v":4.52},{"p":"Nb","e":0.2035,"v":4.56},{"p":"Nb","e":0.2055,"v":4.65},{"p":"Nb","e":0.208,"v":4.77},{"p":"Nb","e":0.2102,"v":4.88},{"p":"Nb","e":0.2137,"v":5.03},{"p":"Nb","e":0.217,"v":5.17},{"p":"Nb","e":0.22,"v":5.31}
              ]},
              "mark": {"type": "line", "strokeWidth": 6, "interpolate": "monotone"},
              "encoding": {
                "x": {"field": "e", "type": "quantitative", "scale": {"domain": [0.12, 0.23], "nice": false}},
                "y": {"field": "v", "type": "quantitative", "scale": {"domain": [-0.25, 6], "nice": false}},
                "color": {"field": "p", "type": "nominal", "scale": {"domain": ["C", "Ti", "Nb"], "range": ["#F5506A", "#4DC77B", "#5F4DF5"]},
                  "legend": {"title": "HEC:", "legendX": 26, "legendY": 39, "symbolType": "M-2.8,0H2.8", "symbolSize": 1600, "symbolStrokeWidth": 6, "symbolOffset": 50, "labelOffset": 35, "rowPadding": -7, "titlePadding": 1}}
              }
            },
            {
              "data": {"values": [{}]},
              "mark": {"type": "text", "text": "ε", "align": "right", "baseline": "alphabetic", "fontStyle": "italic", "fontSize": 64},
              "encoding": {"x": {"datum": 0.1649}, "y": {"datum": 5.445}}
            },
            {
              "data": {"values": [{}]},
              "mark": {"type": "text", "text": "=0.17", "align": "left", "baseline": "alphabetic", "fontSize": 64},
              "encoding": {"x": {"datum": 0.1649}, "y": {"datum": 5.445}}
            },
            {
              "data": {"values": [{}]},
              "mark": {"type": "text", "text": "(d)", "align": "center", "baseline": "middle", "fontSize": 64},
              "encoding": {"x": {"datum": 0.2245}, "y": {"datum": 5.65}}
            }
          ]
        }
      ]
    }
  ]
}
